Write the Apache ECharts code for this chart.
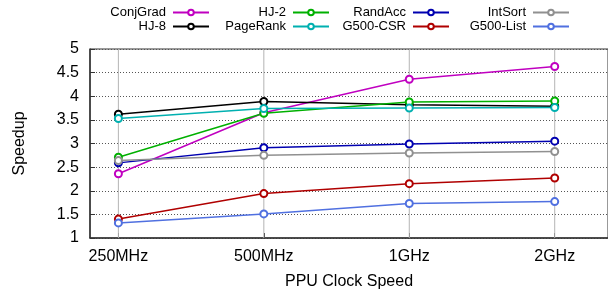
<!DOCTYPE html>
<html>
<head>
<meta charset="utf-8">
<script src="https://cdn.jsdelivr.net/npm/echarts@6/dist/echarts.min.js"></script>
<style>
  html, body { margin: 0; padding: 0; background: #fff; }
  #chart { width: 608px; height: 296px; }
</style>
</head>
<body>
<div id="chart"></div>
<script>
'use strict';

// clock speeds along x
var clockLabels = ['250MHz', '500MHz', '1GHz', '2GHz'];
var clockPos = [0, 1, 2, 3];
var yTicks = [1, 1.5, 2, 2.5, 3, 3.5, 4, 4.5, 5];

// speedup per benchmark
var conjGrad  = [2.36, 3.65, 4.36, 4.63];
var hj8       = [3.62, 3.89, 3.82, 3.79];
var hj2       = [2.71, 3.64, 3.88, 3.90];
var pageRank  = [3.53, 3.74, 3.75, 3.76];
var randAcc   = [2.59, 2.91, 2.99, 3.05];
var g500Csr   = [1.40, 1.94, 2.15, 2.27];
var intSort   = [2.64, 2.75, 2.80, 2.83];
var g500List  = [1.32, 1.51, 1.73, 1.77];

var benchNames = ['ConjGrad', 'HJ-8', 'HJ-2', 'PageRank', 'RandAcc', 'G500-CSR', 'IntSort', 'G500-List'];
var benchData  = [conjGrad, hj8, hj2, pageRank, randAcc, g500Csr, intSort, g500List];
var benchColors = ['#c000c0', '#000000', '#00b000', '#00b0b0', '#0000b0', '#b00000', '#909090', '#5070e0'];

var FONT = '"Liberation Sans", Arial, Helvetica, sans-serif';

var myChart = echarts.init(document.getElementById('chart'));

// key: 4 columns x 2 rows, text then line sample
var legendRight = [398, 278, 158, 38];
var legendTop = [6, 20];
var legends = benchNames.map(function (name, i) {
    var col = Math.floor(i / 2), row = i % 2;
    return {
        data: [name],
        right: legendRight[col],
        top: legendTop[row],
        align: 'right',
        padding: 0,
        itemWidth: 36,
        itemHeight: 7,
        textStyle: { fontFamily: FONT, fontSize: 13, color: '#000', padding: [0, 2, 0, 0] },
        selectedMode: false
    };
});

var series = [];

// vertical grid at each clock speed, under the data
// (dashed style did not show up on these, so a light solid line stands in)
clockPos.forEach(function (p, k) {
    series.push({
        name: 'vgrid' + k,
        type: 'line',
        z: 1,
        animation: false,
        symbol: 'none',
        data: [[p, yTicks[0]], [p, yTicks[yTicks.length - 1]]],
        lineStyle: { color: '#b4b4b4', width: 1 }
    });
});

benchNames.forEach(function (name, i) {
    series.push({
        name: name,
        type: 'line',
        z: 3,
        data: benchData[i].map(function (v, j) { return [clockPos[j], v]; }),
        symbol: 'emptyCircle',
        symbolSize: 7,
        itemStyle: { color: benchColors[i], borderWidth: 1.3 },
        lineStyle: { color: benchColors[i], width: 1.5 },
        animation: false
    });
});

var option = {
    backgroundColor: '#fff',
    legend: legends,
    grid: {
        left: 90, top: 49, right: -2, bottom: 58,
        show: true, borderColor: '#333', borderWidth: 1, backgroundColor: 'transparent'
    },
    xAxis: {
        type: 'value',
        min: -0.1952,
        max: 3.3664,
        name: 'PPU Clock Speed',
        nameLocation: 'middle',
        nameGap: 36,
        nameTextStyle: { fontFamily: FONT, fontSize: 16, color: '#000' },
        axisLine: { show: true, onZero: false, lineStyle: { color: '#333', width: 1.5 } },
        axisTick: { show: true, inside: true, length: 5, customValues: clockPos, lineStyle: { color: '#333' } },
        axisLabel: {
            customValues: clockPos,
            margin: 11,
            fontFamily: FONT, fontSize: 16, color: '#000',
            formatter: function (v) { return clockLabels[Math.round(v)]; }
        },
        splitLine: { show: false }
    },
    yAxis: {
        type: 'value',
        min: yTicks[0],
        max: yTicks[yTicks.length - 1],
        interval: 0.5,
        name: 'Speedup',
        nameLocation: 'middle',
        nameGap: 62,
        nameTextStyle: { fontFamily: FONT, fontSize: 16, color: '#000' },
        axisLine: { show: true, onZero: false, lineStyle: { color: '#333', width: 1.5 } },
        axisTick: { show: true, inside: true, length: 5, lineStyle: { color: '#333' } },
        axisLabel: { margin: 11, fontFamily: FONT, fontSize: 16, color: '#000' },
        splitLine: { show: true, lineStyle: { color: '#555', width: 1, type: [1, 2] } }
    },
    series: series
};

myChart.setOption(option);
</script>
</body>
</html>
